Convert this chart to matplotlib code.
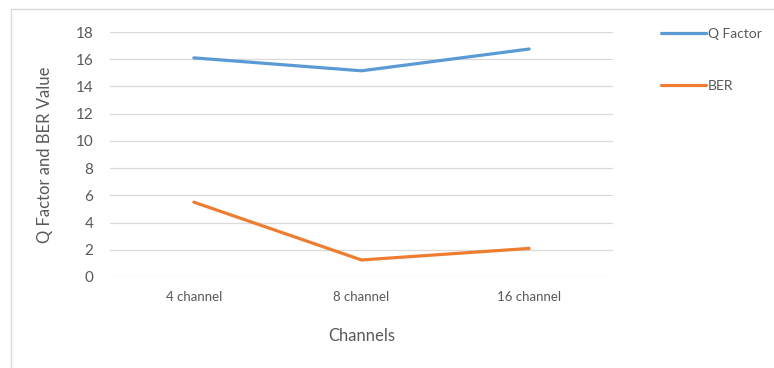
import matplotlib.pyplot as plt
from matplotlib.patches import Rectangle

# Q factor and BER against number of channels
channels = ['4 channel', '8 channel', '16 channel']
q_factor = [16.1, 15.15, 16.75]
ber = [5.5, 1.25, 2.1]

GRAY = '#595959'
plt.rcParams['font.family'] = ['Lato', 'DejaVu Sans']

fig = plt.figure(figsize=(7.74, 3.68), dpi=100)

# chart area frame
fig.patches.append(Rectangle((11 / 774, -0.1), 1.0, 1 - 9 / 368 + 0.1,
                             transform=fig.transFigure, fill=False,
                             edgecolor='#d9d9d9', lw=1.0))

ax = fig.add_axes([110 / 774, 1 - 277 / 368, 503 / 774, 245 / 368])
x = range(len(channels))
ax.plot(x, q_factor, color='#5B9BD5', lw=2.3, label='Q Factor', solid_capstyle='round')
ax.plot(x, ber, color='#ED7D31', lw=2.3, label='BER', solid_capstyle='round')

ax.set_xlim(-0.5, len(channels) - 0.5)
ax.set_ylim(0, 18)
ax.set_yticks(range(0, 19, 2))
ax.set_xticks(list(x))
ax.set_xticklabels(channels, fontsize=9.5, color=GRAY)
ax.tick_params(axis='y', labelsize=11, labelcolor=GRAY, length=0, pad=12)
ax.tick_params(axis='x', length=0, pad=10)
ax.grid(axis='y', color='#d9d9d9', lw=0.9)
ax.set_axisbelow(True)
for s in ax.spines.values():
    s.set_visible(False)

ax.set_xlabel('Channels', fontsize=12, color=GRAY, labelpad=18)
ax.set_ylabel('Q Factor and BER Value', fontsize=12, color=GRAY, labelpad=16)

ax.legend(loc='upper left', bbox_to_anchor=(655 / 774, 1 - 22 / 368),
          bbox_transform=fig.transFigure, frameon=False, fontsize=10,
          labelcolor=GRAY, handlelength=3.3, handletextpad=0.1,
          labelspacing=2.9, borderaxespad=0)

fig.savefig('out.png', dpi=100)
